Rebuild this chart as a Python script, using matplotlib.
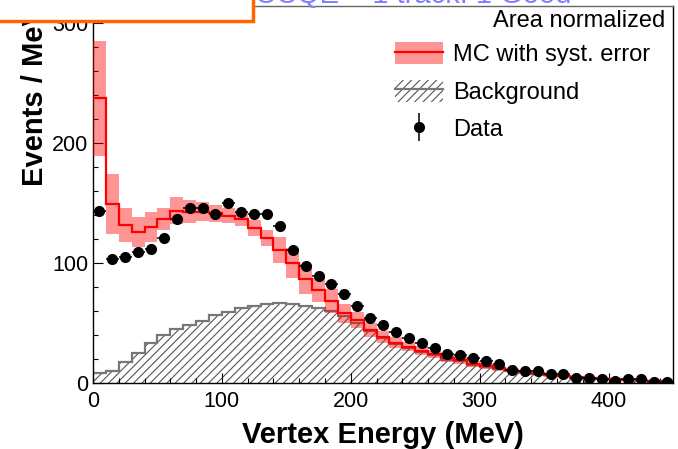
import numpy as np
import matplotlib
matplotlib.use("Agg")
import matplotlib.pyplot as plt
from matplotlib.patches import Patch, Rectangle
from matplotlib.lines import Line2D

plt.rcParams['font.family'] = ['Liberation Sans', 'DejaVu Sans']
plt.rcParams['hatch.linewidth'] = 0.8

# 10 MeV bins from 0 to 450
edges = np.arange(0, 451, 10)
centers = edges[:-1] + 5

data = [143, 103.6, 105, 109, 112, 120.6, 137, 146, 145.5, 141,
        150, 142.5, 140.5, 141, 130.5, 110.5, 97.6, 88.8, 82.5, 74,
        64, 54.4, 48.6, 42.8, 37.8, 33, 29.4, 24.4, 23.3, 20.5,
        18.6, 15.5, 10.8, 10.3, 10.3, 7.2, 7.2, 3.9, 4.4, 3.3,
        2, 3.3, 3.3, 1, 1]

mc = [237, 149, 131.7, 126, 130, 136.4, 143.6, 142.8, 142.8, 141.4,
      139.4, 136.4, 129, 120.6, 110.8, 100, 87, 77.5, 68.6, 58,
      52.5, 44.2, 38.6, 33.6, 30.3, 27, 24.2, 20.5, 19.2, 15.8,
      14.2, 12.2, 10.8, 9.4, 8.1, 6.7, 5.8, 4.7, 3.9, 3.3,
      3.1, 2.5, 2.2, 1.7, 1.4]

mc_err = [48, 25, 14, 12.5, 12.5, 9, 11, 9.5, 8, 7,
          6.5, 6, 6.5, 6.5, 11, 12.5, 12.5, 10, 10, 8,
          7, 6, 5, 4.5, 4, 3.5, 3.5, 3, 3, 2.5,
          2.5, 2, 2, 1.8, 1.6, 1.4, 1.2, 1, 1, 0.9,
          0.8, 0.7, 0.6, 0.5, 0.5]

bkg = [8, 9.7, 17.2, 24.7, 33.6, 40, 44.7, 48.3, 52, 56.7,
       59.4, 62.2, 64.2, 65.6, 66.4, 65.6, 64.2, 62.2, 60, 56,
       50, 43, 37.5, 32.5, 29, 25.5, 23, 19.5, 18, 15,
       13.5, 11.5, 10, 9, 7.7, 6.4, 5.5, 4.5, 3.7, 3.1,
       2.9, 2.3, 2, 1.6, 1.3]

mc = np.array(mc)
mc_err = np.array(mc_err)

fig = plt.figure(figsize=(6.78, 4.49), dpi=100)
ax = fig.add_axes([93 / 678, 66 / 449, 580 / 678, 377 / 449])

# background: hatched fill plus outline
ax.stairs(bkg, edges, fill=True, hatch='////', facecolor='none',
          edgecolor='#555555', linewidth=0, zorder=1)
ax.stairs(bkg, edges, color='#777777', linewidth=1.6, baseline=None, zorder=2)

# MC with systematic band
ax.stairs(mc + mc_err, edges, baseline=mc - mc_err, fill=True,
          color='red', alpha=0.42, linewidth=0, zorder=3)
ax.stairs(mc, edges, color='red', linewidth=1.6, baseline=None, zorder=4)

# data
ax.errorbar(centers, data, xerr=5, yerr=1.5, fmt='o', color='black',
             ms=7, elinewidth=1.1, capsize=0, zorder=5)

ax.set_xlim(0, 450)
ax.set_ylim(0, 314)
ax.set_xticks([0, 100, 200, 300, 400])
ax.set_yticks([0, 100, 200, 300])
ax.set_xticks(np.arange(0, 451, 20), minor=True)
ax.set_yticks(np.arange(0, 314, 20), minor=True)
ax.tick_params(which='both', direction='in', labelsize=15.5, width=0.8)
ax.tick_params(which='major', length=7)
ax.tick_params(which='minor', length=3.6)
ax.tick_params(axis='x', pad=6)
ax.tick_params(axis='y', pad=3.5)
for s in ax.spines.values():
    s.set_linewidth(1)
ax.spines['top'].set_color('#666666')

ax.set_xlabel('Vertex Energy (MeV)', fontsize=21, fontweight='bold')
ax.xaxis.label.set_va('baseline')
ax.xaxis.set_label_coords(0.5, -0.159)
ax.set_ylabel('Events / MeV', fontsize=21, fontweight='bold', loc='top')
ax.yaxis.set_label_coords(-0.075, 1.0)

ax.text(0.986, 0.960, 'Area normalized', transform=ax.transAxes,
        ha='right', va='center', fontsize=17)

h_mc = (Patch(facecolor='red', alpha=0.42, linewidth=0),
        Line2D([], [], color='red', lw=1.6))
h_bkg = (Patch(facecolor='none', edgecolor='#555555', hatch='////', linewidth=0),
         Line2D([], [], color='#777777', lw=1.6))
h_data = (Line2D([], [], marker='|', ms=20, mew=1.1, color='black', ls='none'),
          Line2D([], [], marker='o', ms=7, color='black', ls='none'))
ax.legend([h_mc, h_bkg, h_data], ['MC with syst. error', 'Background', 'Data'],
          loc='upper left', bbox_to_anchor=(0.5207, 0.904), frameon=False,
          borderpad=0, borderaxespad=0, fontsize=17, handlelength=2.03,
          handleheight=1.06, handletextpad=0.42, labelspacing=0.57)

# header strip above the plot
fig.text(255 / 678, 1 - 2.5 / 449, 'CCQE + 1 track: 1 Good', color='#8080ff',
         fontsize=21, va='baseline', ha='left')
fig.text(16 / 678, 1 - 2 / 449, 'Entries', color='black', fontsize=14,
         va='baseline', ha='right')
cover = Rectangle((-10 / 678, 1 - 21 / 449), 263 / 678, 40 / 449,
                  transform=fig.transFigure, facecolor='white',
                  edgecolor='none', zorder=9)
box = Rectangle((-10 / 678, 1 - 21 / 449), 263 / 678, 40 / 449,
                transform=fig.transFigure, facecolor='none',
                edgecolor='#ff6600', linewidth=2.5, zorder=10)
fig.add_artist(cover)
fig.add_artist(box)

fig.savefig('out.png', dpi=100)
